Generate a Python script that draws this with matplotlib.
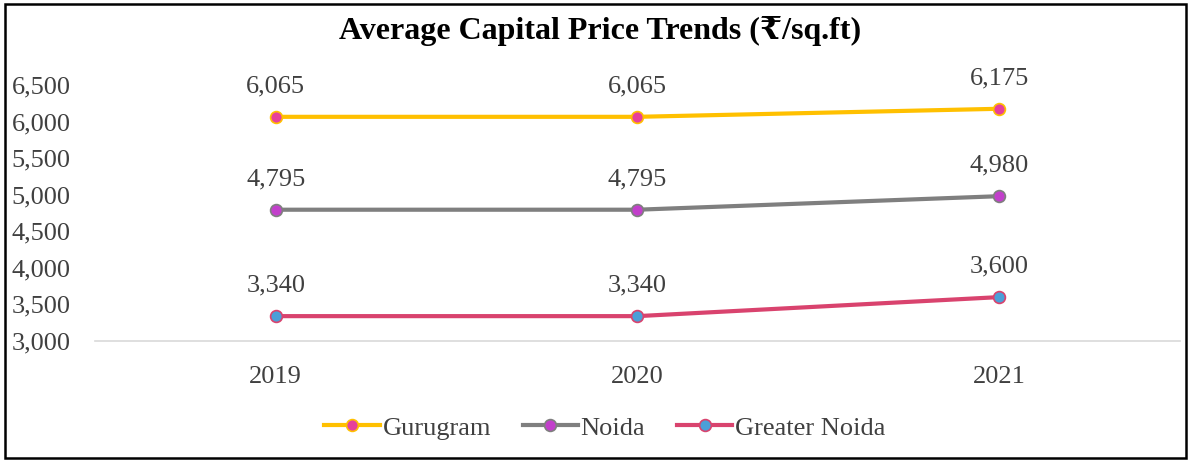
import matplotlib.pyplot as plt
from matplotlib.patches import Rectangle

# ----------------------------
# DATA
# ----------------------------
years = ["2019", "2020", "2021"]
gurugram = [6065, 6065, 6175]
noida = [4795, 4795, 4980]
greater_noida = [3340, 3340, 3600]
y_ticks = [3000, 3500, 4000, 4500, 5000, 5500, 6000, 6500]

plt.rcParams["font.family"] = ["Liberation Serif", "DejaVu Serif"]

fig = plt.figure(figsize=(11.93, 4.61), dpi=100)
ax = fig.add_axes([0.0796, 0.2603, 0.9094, 0.5553])

x = range(len(years))
series = [
    ("Gurugram", gurugram, "#FFC000", "#E6409A"),
    ("Noida", noida, "#7F7F7F", "#C23FCB"),
    ("Greater Noida", greater_noida, "#D9436E", "#4B9FD8"),
]
for name, vals, lc, mc in series:
    ax.plot(x, vals, color=lc, lw=3, marker="o", ms=8.5,
            markerfacecolor=mc, markeredgecolor=lc, markeredgewidth=1.2,
            label=name)
    for xi, v in zip(x, vals):
        ax.annotate(f"{v:,}", (xi, v), xytext=(0, 22), textcoords="offset points",
                    ha="center", va="center", fontsize=19, color="#404040")

ax.set_xlim(-0.5, 2.5)
ax.set_ylim(3000, 6500)
ax.set_xticks(list(x))
ax.set_xticklabels(years, fontsize=19, color="#404040")
ax.set_yticks(y_ticks)
ax.set_yticklabels([f"{t:,}" for t in y_ticks], fontsize=19, color="#404040")
for lab in ax.get_yticklabels():
    lab.set_horizontalalignment("left")
ax.tick_params(axis="y", length=0, pad=60)
ax.tick_params(axis="x", length=0, pad=18)

for s in ["top", "right", "left"]:
    ax.spines[s].set_visible(False)
ax.spines["bottom"].set_color("#D9D9D9")
ax.spines["bottom"].set_linewidth(1.2)

fig.text(0.503, 0.932, "Average Capital Price Trends (\u20b9/sq.ft)",
         ha="center", va="center", fontsize=23, fontweight="bold")

fig.legend(loc="center", bbox_to_anchor=(0.507, 0.072), ncol=3, frameon=False,
           fontsize=19, handlelength=2.1, handletextpad=0.1, columnspacing=1.2,
           labelcolor="#404040")

fig.patches.append(Rectangle((0.004, 0.006), 0.99, 0.986, transform=fig.transFigure,
                             fill=False, edgecolor="black", lw=1.8))

plt.savefig("out.png", dpi=100)
